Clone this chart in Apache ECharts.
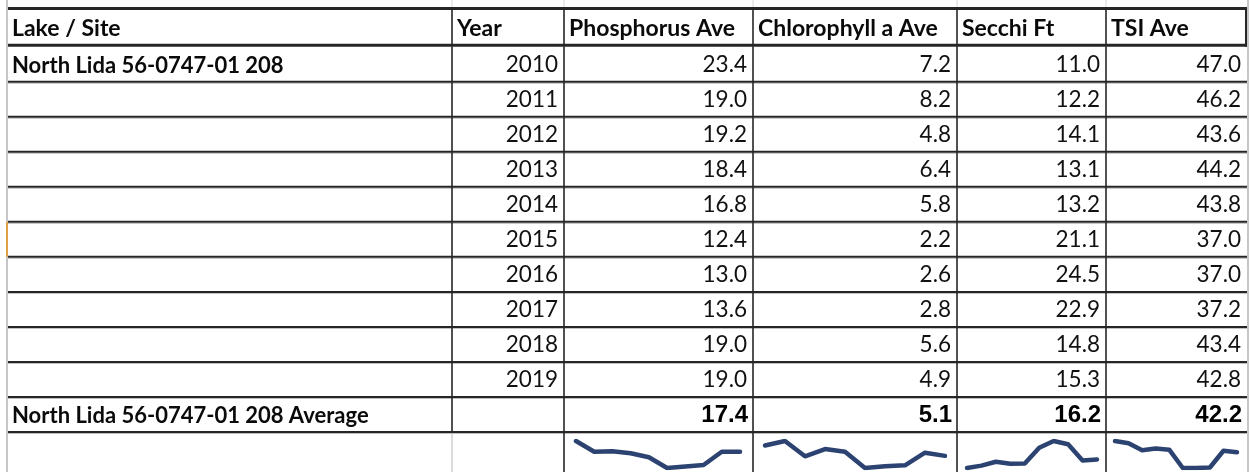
<!DOCTYPE html>
<html>
<head>
<meta charset="utf-8">
<script src="https://cdn.jsdelivr.net/npm/echarts@6/dist/echarts.min.js"></script>
<style>
  html, body { margin: 0; padding: 0; background: #fff; }
  #chart { width: 1250px; height: 472px; }
</style>
</head>
<body>
<div id="chart"></div>
<script>
  // data
  var siteName = 'North Lida 56-0747-01 208';
  var headers = ['Lake / Site', 'Year', 'Phosphorus Ave', 'Chlorophyll a Ave', 'Secchi Ft', 'TSI Ave'];
  var years = [2010, 2011, 2012, 2013, 2014, 2015, 2016, 2017, 2018, 2019];
  var phosphorus = [23.4, 19.0, 19.2, 18.4, 16.8, 12.4, 13.0, 13.6, 19.0, 19.0];
  var chlorophyll = [7.2, 8.2, 4.8, 6.4, 5.8, 2.2, 2.6, 2.8, 5.6, 4.9];
  var secchi = [11.0, 12.2, 14.1, 13.1, 13.2, 21.1, 24.5, 22.9, 14.8, 15.3];
  var tsi = [47.0, 46.2, 43.6, 44.2, 43.8, 37.0, 37.0, 37.2, 43.4, 42.8];
  var averages = [17.4, 5.1, 16.2, 42.2];

  // layout
  var colEdges = [8, 452, 564, 753, 957, 1106, 1247];
  var headTop = 8, bodyTop = 46.7, bodyBottom = 432;
  var sparkBoxes = [[576, 164], [765, 180], [967, 130], [1115, 122]];
  var lineColor = '#262626';
  var gridGray = '#c6c6c6';
  var textFont = 'Lato';

  var measures = [phosphorus, chlorophyll, secchi, tsi];
  var rowNames = years.map(String).concat(['Average']);

  // one entry per body cell
  var cells = [];
  rowNames.forEach(function (name, r) {
    var isAvg = r === years.length;
    for (var c = 0; c < 6; c++) {
      var txt = '', kind = 'num';
      if (c === 0) {
        txt = r === 0 ? siteName : (isAvg ? siteName + ' Average' : '');
        kind = 'site';
      } else if (c === 1) {
        txt = isAvg ? '' : String(years[r]);
      } else {
        txt = isAvg ? averages[c - 2].toFixed(1) : measures[c - 2][r].toFixed(1);
        if (isAvg) kind = 'avg';
      }
      cells.push({ c: c, r: r, text: txt, kind: kind });
    }
  });

  function renderCell(params, api) {
    var cell = cells[params.dataIndex];
    var p0 = api.coord([colEdges[cell.c], cell.r]);
    var p1 = api.coord([colEdges[cell.c + 1], cell.r]);
    var h = api.size([0, 1])[1];
    var top = p0[1] - h / 2, bottom = p0[1] + h / 2;
    var kids = [];
    kids.push({ type: 'line', shape: { x1: p0[0], y1: bottom + 1.5, x2: p1[0], y2: bottom + 1.5 }, style: { stroke: '#bdbdbd', lineWidth: 1 } });
    kids.push({ type: 'line', shape: { x1: p0[0], y1: bottom, x2: p1[0], y2: bottom }, style: { stroke: lineColor, lineWidth: 2 } });
    if (cell.c < 5) {
      kids.push({ type: 'line', shape: { x1: p1[0], y1: top, x2: p1[0], y2: bottom }, style: { stroke: lineColor, lineWidth: 1.6 } });
    }
    if (cell.text) {
      var st;
      if (cell.kind === 'site') {
        st = { text: cell.text, x: p0[0] + 4, y: p0[1] + 1.5, align: 'left', verticalAlign: 'middle',
               font: 'bold 22px ' + textFont, fill: '#0a0a0a' };
      } else if (cell.kind === 'avg') {
        st = { text: cell.text, x: p1[0] - 5, y: p0[1] + 1, align: 'right', verticalAlign: 'middle',
               font: 'bold 24px "Liberation Sans"', fill: '#000' };
      } else {
        st = { text: cell.text, x: p1[0] - 6, y: p0[1] + 0.5, align: 'right', verticalAlign: 'middle',
               font: '22.5px ' + textFont, fill: '#111' };
      }
      kids.push({ type: 'text', style: st });
    }
    return { type: 'group', children: kids };
  }

  // header and frame pieces
  var graphics = [];
  graphics.push({ type: 'line', shape: { x1: 7, y1: 0, x2: 7, y2: 472 }, style: { stroke: gridGray, lineWidth: 2 }, z: 1 });
  graphics.push({ type: 'line', shape: { x1: 7, y1: bodyTop + 35 * 5, x2: 7, y2: bodyTop + 35 * 6 }, style: { stroke: '#e0a048', lineWidth: 2 }, z: 2 });
  graphics.push({ type: 'line', shape: { x1: 1248, y1: 0, x2: 1248, y2: 472 }, style: { stroke: gridGray, lineWidth: 2 }, z: 1 });
  colEdges.slice(1, 6).forEach(function (x) {
    graphics.push({ type: 'line', shape: { x1: x, y1: 0, x2: x, y2: headTop }, style: { stroke: '#d8d8d8', lineWidth: 1 }, z: 1 });
  });
  graphics.push({ type: 'line', shape: { x1: 8, y1: headTop + 0.5, x2: 1247, y2: headTop + 0.5 }, style: { stroke: lineColor, lineWidth: 3 }, z: 3 });
  graphics.push({ type: 'line', shape: { x1: 8, y1: bodyTop - 1.5, x2: 1247, y2: bodyTop - 1.5 }, style: { stroke: lineColor, lineWidth: 3 }, z: 3 });
  graphics.push({ type: 'line', shape: { x1: 1246, y1: headTop, x2: 1246, y2: bodyTop }, style: { stroke: lineColor, lineWidth: 2 }, z: 3 });
  colEdges.slice(1, 6).forEach(function (x) {
    graphics.push({ type: 'line', shape: { x1: x, y1: headTop, x2: x, y2: bodyTop }, style: { stroke: lineColor, lineWidth: 1.6 }, z: 3 });
  });
  headers.forEach(function (h, i) {
    graphics.push({ type: 'text', z: 3, style: { text: h, x: colEdges[i] + (i === 0 ? 4 : 5), y: 28.5, align: 'left', verticalAlign: 'middle',
      font: 'bold 23px ' + textFont, fill: '#0a0a0a' } });
  });
  // sparkline row borders
  graphics.push({ type: 'line', shape: { x1: 452, y1: bodyBottom, x2: 452, y2: 472 }, style: { stroke: '#d0d0d0', lineWidth: 1.5 }, z: 1 });
  colEdges.slice(2, 6).forEach(function (x) {
    graphics.push({ type: 'line', shape: { x1: x, y1: bodyBottom, x2: x, y2: 472 }, style: { stroke: lineColor, lineWidth: 1.6 }, z: 3 });
  });

  var grids = [{ left: 0, right: 0, top: bodyTop, height: bodyBottom - bodyTop, outerBoundsMode: 'none' }];
  var xAxes = [{ type: 'value', gridIndex: 0, min: 0, max: 1250, show: false }];
  var yAxes = [{ type: 'category', gridIndex: 0, data: rowNames, inverse: true, show: false }];
  var series = [{
    type: 'custom',
    xAxisIndex: 0, yAxisIndex: 0,
    data: cells.map(function (d) { return [colEdges[d.c], d.r]; }),
    renderItem: renderCell,
    silent: true,
    z: 2
  }];

  measures.forEach(function (vals, i) {
    var g = i + 1;
    grids.push({ left: sparkBoxes[i][0], width: sparkBoxes[i][1], top: 441, height: 27, outerBoundsMode: 'none' });
    xAxes.push({ type: 'category', gridIndex: g, data: years, boundaryGap: false, show: false });
    yAxes.push({ type: 'value', gridIndex: g, min: 'dataMin', max: 'dataMax', show: false });
    series.push({
      type: 'line', xAxisIndex: g, yAxisIndex: g,
      data: vals, symbol: 'none', silent: true,
      lineStyle: { color: '#2c4372', width: 4.5, join: 'round', cap: 'round' },
      z: 4
    });
  });

  var myChart = echarts.init(document.getElementById('chart'));
  myChart.setOption({
    animation: false,
    backgroundColor: '#fff',
    grid: grids,
    xAxis: xAxes,
    yAxis: yAxes,
    series: series,
    graphic: graphics
  });
</script>
</body>
</html>
